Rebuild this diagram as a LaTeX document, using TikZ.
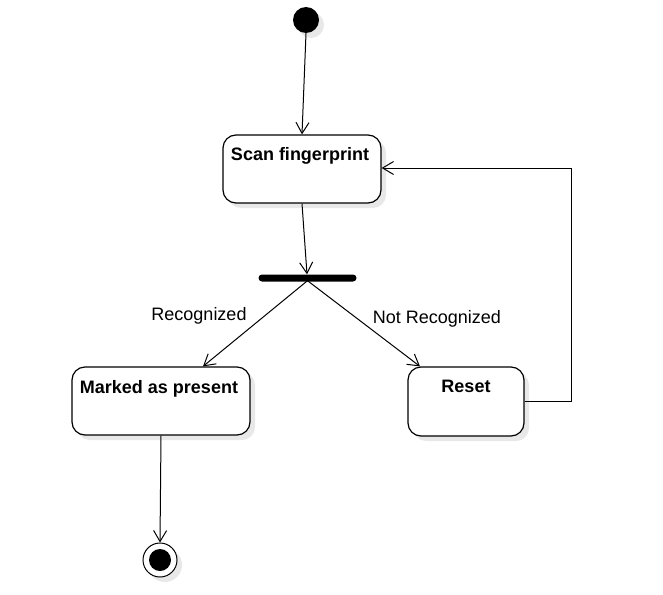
\documentclass[tikz,border=0pt]{standalone}
\usepackage{fontspec}
\setmainfont{Liberation Sans}
\usetikzlibrary{arrows.meta,shadows}
\begin{document}
\begin{tikzpicture}[x=1pt,y=-1pt,
  shadowed/.style={drop shadow={shadow xshift=5pt,shadow yshift=-5pt,fill=black!9,opacity=1}},
  statebox/.style={draw=black,line width=1.2pt,rounded corners=13pt,fill=white,shadowed,inner sep=0pt},
  boxtext/.style={font=\fontsize{18}{21}\selectfont\bfseries,inner sep=0pt,anchor=north},
  edgetext/.style={font=\fontsize{18}{21}\selectfont,inner sep=0pt},
  arr/.style={draw=black,line width=1pt,-{Straight Barb[length=11pt,width=13pt,line width=1pt]}}
]
\useasboundingbox (0,0) rectangle (663,594);
% initial
\node[circle,fill=black,minimum size=26pt,inner sep=0pt,shadowed] (init) at (306,20) {};
% states
\node[statebox,minimum width=158pt,minimum height=68pt,
  label={[boxtext,yshift=-13pt,xshift=-2pt]north:Scan fingerprint}] (scan) at (302,169) {};
\node[statebox,minimum width=178pt,minimum height=68pt,
  label={[boxtext,yshift=-14pt,xshift=-2pt]north:Marked as present}] (marked) at (161,401) {};
\node[statebox,minimum width=116pt,minimum height=69pt,
  label={[boxtext,yshift=-14pt]north:Reset}] (reset) at (466,401.5) {};
% fork bar
\node[fill=black,rounded corners=3.5pt,minimum width=98pt,minimum height=7pt,inner sep=0pt] (bar) at (307.5,278) {};
% final
\node[circle,draw=black,line width=1pt,fill=white,minimum size=34pt,inner sep=0pt,shadowed] (final) at (160,560) {};
\node[circle,fill=black,minimum size=22pt,inner sep=0pt] (finalin) at (final.center) {};
% labels
\node[edgetext] (lrec) at (199,316) {Recognized};
\node[edgetext] (lnot) at (437,319) {Not Recognized};
% connectors
\draw[arr] (init.south) -- (scan.north);
\draw[arr] (scan.south) -- ([xshift=-0.5pt]bar.north);
\draw[arr] ([yshift=1pt]bar.south) -- ([xshift=42pt]marked.north);
\draw[arr] ([yshift=1pt]bar.south) -- ([xshift=-46pt]reset.north);
\draw[arr] (reset.east) -- ++(47,0) |- ([yshift=1pt]scan.east);
\draw[arr] (marked.south) -- (final.north);
\end{tikzpicture}
\end{document}
